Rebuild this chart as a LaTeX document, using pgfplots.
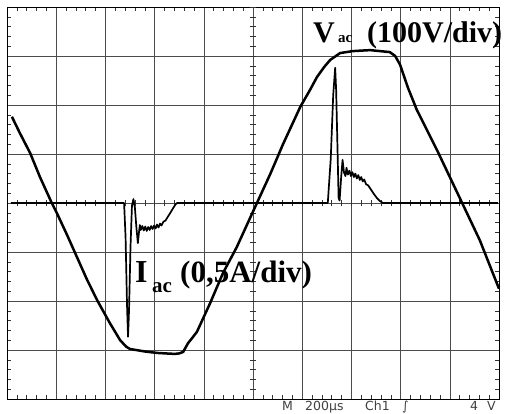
\documentclass[border=0pt]{standalone}
\usepackage{pgfplots}
\pgfplotsset{compat=1.18}
\usepackage{fontspec}
\setmainfont{Liberation Serif}
\newfontfamily\scopefont{DejaVu Sans}

% scope traces (x in divisions, y in divisions)
\pgfplotstableread{
x y
0.10 1.76
0.26 1.43
0.47 1.02
0.67 0.53
0.91 0.00
1.02 -0.22
1.22 -0.65
1.42 -1.10
1.62 -1.55
1.83 -1.98
2.09 -2.45
2.30 -2.80
2.42 -2.93
2.50 -2.98
2.80 -3.03
3.05 -3.06
3.41 -3.08
3.50 -3.07
3.58 -3.04
3.68 -2.86
3.76 -2.76
3.86 -2.63
4.13 -2.04
4.39 -1.43
4.67 -0.90
4.92 -0.35
5.08 0.00
5.35 0.59
5.61 1.20
5.96 1.96
6.16 2.31
6.30 2.57
6.45 2.78
6.57 2.92
6.77 3.06
7.03 3.10
7.38 3.12
7.78 3.08
7.89 3.00
7.99 2.82
8.15 2.35
8.33 1.90
8.74 1.08
9.27 -0.04
9.61 -0.76
10.0 -1.75
}\vac

\pgfplotstableread{
x y
0.08 0.00
2.38 0.00
2.41 -0.70
2.44 -2.10
2.46 -2.73
2.48 -2.20
2.51 -0.90
2.54 -0.05
2.57 0.08
2.60 -0.10
2.63 -0.50
2.66 -0.82
2.68 -0.62
2.70 -0.45
2.72 -0.55
2.75 -0.47
2.78 -0.56
2.81 -0.48
2.84 -0.57
2.87 -0.49
2.90 -0.55
2.93 -0.47
2.96 -0.53
2.99 -0.46
3.02 -0.52
3.05 -0.44
3.08 -0.50
3.11 -0.42
3.14 -0.46
3.18 -0.38
3.22 -0.36
3.27 -0.28
3.32 -0.20
3.38 -0.10
3.43 -0.02
3.46 0.00
6.52 0.00
6.58 0.90
6.63 2.20
6.67 2.76
6.69 2.30
6.72 1.00
6.74 0.10
6.76 0.05
6.79 0.50
6.82 0.88
6.85 0.62
6.88 0.55
6.90 0.72
6.93 0.58
6.96 0.66
6.99 0.55
7.02 0.63
7.05 0.53
7.08 0.60
7.11 0.50
7.14 0.57
7.17 0.47
7.20 0.53
7.23 0.44
7.26 0.48
7.30 0.38
7.34 0.36
7.40 0.27
7.46 0.18
7.52 0.10
7.58 0.04
7.64 0.00
9.98 0.00
}\iac

\begin{document}
\begin{tikzpicture}
\begin{axis}[
  scale only axis,
  width=492pt, height=392pt,
  xmin=0, xmax=10, ymin=-4, ymax=4,
  xtick={0,...,10}, ytick={-4,...,4},
  minor x tick num=4, minor y tick num=4,
  xticklabels={}, yticklabels={},
  major tick length=0pt, minor tick length=4pt,
  tick style={black!80, line width=0.5pt},
  grid=major,
  major grid style={black!70, line width=0.5pt},
  axis line style={black, line width=0.6pt},
  clip=true,
]
% centre cross with small division marks
\pgfplotsinvokeforeach{0.2,0.4,...,9.9}{
  \draw[black!80, line width=0.5pt] (axis cs:#1,-0.07) -- (axis cs:#1,0.07);
}
\pgfplotsinvokeforeach{-3.8,-3.6,...,3.9}{
  \draw[black!80, line width=0.5pt] (axis cs:4.93,#1) -- (axis cs:5.07,#1);
}
\addplot[black, line width=1.7pt, line join=round] table {\iac};
\addplot[black, line width=2.5pt, line join=round] table {\vac};
\end{axis}

% channel labels
\node[anchor=base west, inner sep=0pt] at (306pt,356pt)
  {\fontsize{30}{30}\selectfont\bfseries V};
\node[anchor=base west, inner sep=0pt] at (331pt,356pt)
  {\fontsize{15}{15}\selectfont\bfseries ac};
\node[anchor=base west, inner sep=0pt] at (360pt,356pt)
  {\fontsize{30}{30}\selectfont\bfseries (100V/div)};

\node[anchor=base west, inner sep=0pt] at (128pt,116pt)
  {\fontsize{32}{32}\selectfont\bfseries I};
\node[anchor=base west, inner sep=0pt] at (145pt,106pt)
  {\fontsize{21}{21}\selectfont\bfseries ac};
\node[anchor=base west, inner sep=0pt] at (173pt,116pt)
  {\fontsize{31}{31}\selectfont\bfseries (0,5A/div)};

% scope status line
\begin{scope}[every node/.style={anchor=base west, inner sep=0pt, text=black!75,
    font=\scopefont\fontsize{12.5}{12.5}\selectfont}]
\node at (275pt,-12pt) {M};
\node at (298pt,-12pt) {200µs};
\node at (358pt,-12pt) {Ch1};
\node at (395pt,-12pt) {∫};
\node at (463pt,-12pt) {4};
\node at (480pt,-12pt) {V};
\end{scope}

\pgfresetboundingbox
\path[use as bounding box] (-7pt,-15pt) rectangle (498pt,399pt);
\end{tikzpicture}
\end{document}
